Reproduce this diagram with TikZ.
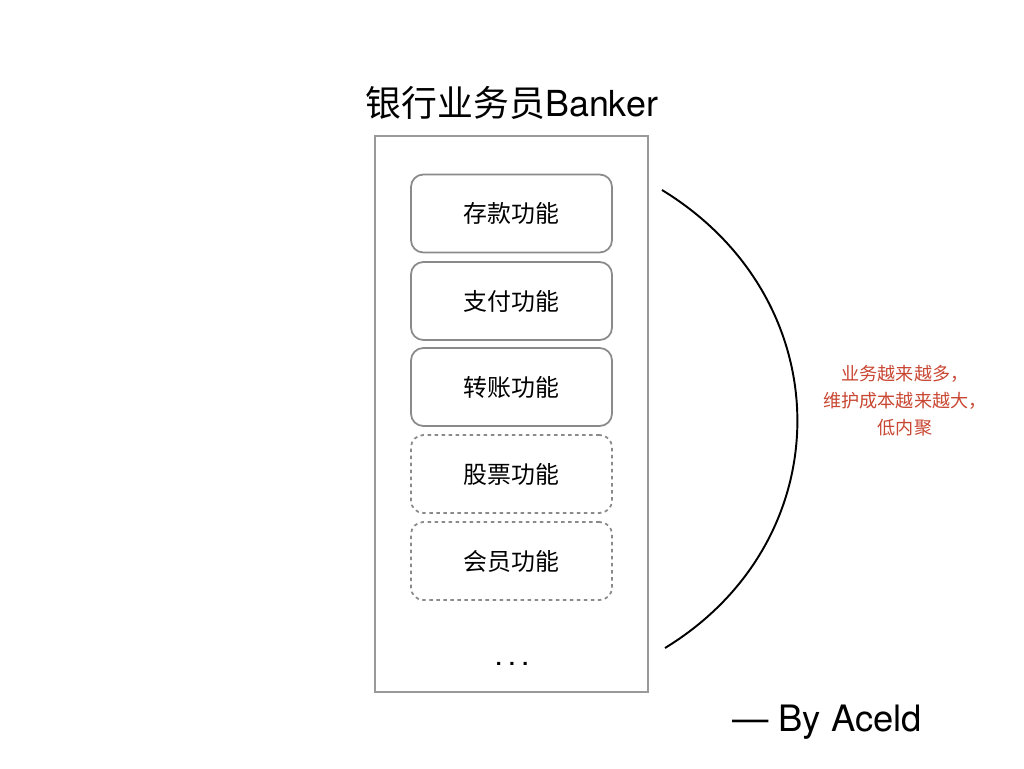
\documentclass[tikz,border=0pt]{standalone}
\usepackage{fontspec}
\setmainfont{TeX Gyre Heros}
\newfontfamily\cjk{Noto Sans CJK SC}
\usetikzlibrary{positioning}
\definecolor{boxgray}{HTML}{8A8A8A}
\definecolor{framegray}{HTML}{999999}
\definecolor{notered}{RGB}{200,70,50}

\begin{document}
\begin{tikzpicture}[x=0.02cm,y=-0.02cm,
  func/.style={draw=boxgray,line width=1pt,rounded corners=7pt,minimum width=4.02cm,minimum height=1.56cm,font=\cjk\fontsize{13.6}{16}\selectfont},
  newfunc/.style={func,dash pattern=on 2pt off 2pt}]
\useasboundingbox (0,0) rectangle (1024,768);
\node[draw=framegray,line width=1pt,minimum width=5.46cm,minimum height=11.12cm] (banker) at (511.5,414) {};
\node[font=\fontsize{20.4}{23}\selectfont] (title) at (512,103) {{\cjk 银行业务员}Banker};
\node[func] (deposit) at (511.5,213.5) {存款功能};
\node[func] (pay) at (511.5,301) {支付功能};
\node[func] (transfer) at (511.5,387) {转账功能};
\node[newfunc] (stock) at (511.5,474) {股票功能};
\node[newfunc] (member) at (511.5,561) {会员功能};
\node[font=\fontsize{17}{20}\selectfont] (more) at (512,664) {.\,.\,.};
\coordinate (arctop) at (662,190);
\coordinate (arcbot) at (665,648);
\draw[line width=1.1pt] (arctop) .. controls (842,300) and (842,540) .. (arcbot);
\node[text=notered,align=center,font=\cjk\fontsize{10.3}{15.3}\selectfont] (note) at (905,401) {业务越来越多，\\维护成本越来越大，\\低内聚};
\node[font=\fontsize{20.7}{24}\selectfont] (author) at (827,722) {— By Aceld};
\end{tikzpicture}
\end{document}
